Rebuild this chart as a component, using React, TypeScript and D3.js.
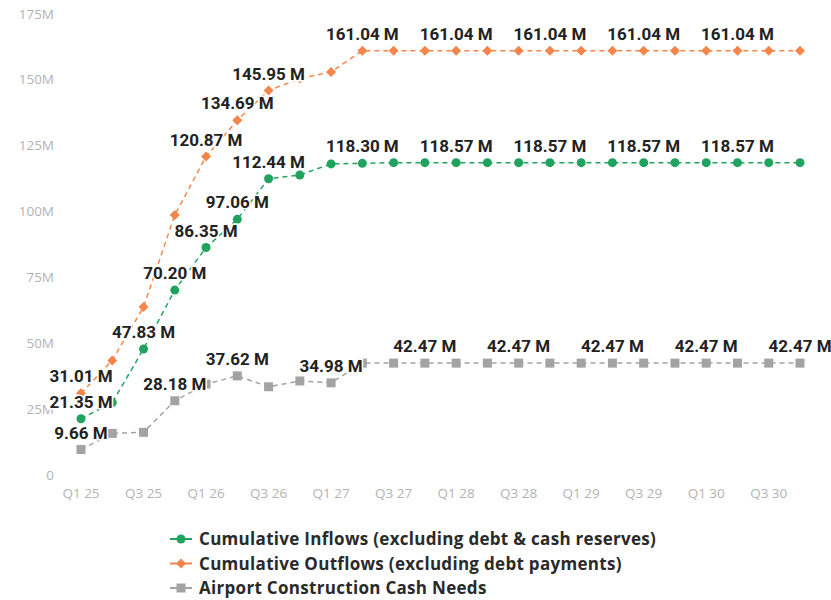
import React from "react";
import * as d3 from "d3";

const quarters = [
  "Q1 25","Q2 25","Q3 25","Q4 25","Q1 26","Q2 26","Q3 26","Q4 26",
  "Q1 27","Q2 27","Q3 27","Q4 27","Q1 28","Q2 28","Q3 28","Q4 28",
  "Q1 29","Q2 29","Q3 29","Q4 29","Q1 30","Q2 30","Q3 30","Q4 30",
];
const tickQuarters = ["Q1 25","Q3 25","Q1 26","Q3 26","Q1 27","Q3 27","Q1 28","Q3 28","Q1 29","Q3 29","Q1 30","Q3 30"];
const yTicks = [0, 25, 50, 75, 100, 125, 150, 175];

const inflows = [21.35, 27.5, 47.83, 70.2, 86.35, 97.06, 112.44, 113.9, 118.1, 118.3,
  118.57, 118.57, 118.57, 118.57, 118.57, 118.57, 118.57, 118.57, 118.57, 118.57, 118.57, 118.57, 118.57, 118.57];
const outflows = [31.01, 43.5, 63.8, 98.7, 120.87, 134.69, 145.95, 150.5, 153.0, 161.04,
  161.04, 161.04, 161.04, 161.04, 161.04, 161.04, 161.04, 161.04, 161.04, 161.04, 161.04, 161.04, 161.04, 161.04];
const construction = [9.66, 15.8, 16.2, 28.18, 34.5, 37.62, 33.5, 35.7, 34.98, 42.47,
  42.47, 42.47, 42.47, 42.47, 42.47, 42.47, 42.47, 42.47, 42.47, 42.47, 42.47, 42.47, 42.47, 42.47];

const inflowLabelIdx = [0, 2, 3, 4, 5, 6, 9, 12, 15, 18, 21];
const outflowLabelIdx = [0, 4, 5, 6, 9, 12, 15, 18, 21];
const constructionLabelIdx = [0, 3, 5, 8, 11, 14, 17, 20, 23];

const seriesNames = [
  "Cumulative Inflows (excluding debt & cash reserves)",
  "Cumulative Outflows (excluding debt payments)",
  "Airport Construction Cash Needs",
];
const colors = ["#1FA35E", "#F5854A", "#A3A3A3"];

type Shape = "circle" | "diamond" | "square";

function Marker({ x, y, shape, color }: { x: number; y: number; shape: Shape; color: string }) {
  if (shape === "circle") return <circle cx={x} cy={y} r={4.5} fill={color} />;
  if (shape === "diamond")
    return <path d={`M${x},${y - 5}L${x + 5},${y}L${x},${y + 5}L${x - 5},${y}Z`} fill={color} />;
  return <rect x={x - 4.5} y={y - 4.5} width={9} height={9} fill={color} />;
}

export default function App() {
  const W = 831, H = 600;
  const x = d3.scalePoint<string>().domain(quarters).range([81, 800]);
  const y = d3.scaleLinear().domain([0, 175]).range([475, 14]);
  const line = d3.line<number>().x((_, i) => x(quarters[i])!).y((d) => y(d));

  const series = [
    { data: inflows, labels: inflowLabelIdx, shape: "circle" as Shape, color: colors[0] },
    { data: outflows, labels: outflowLabelIdx, shape: "diamond" as Shape, color: colors[1] },
    { data: construction, labels: constructionLabelIdx, shape: "square" as Shape, color: colors[2] },
  ];
  const drawOrder = [2, 0, 1];
  const fmt = (v: number) => `${v.toFixed(2)} M`;

  return (
    <svg width={W} height={H} style={{ position: "absolute", left: 0, top: 0, background: "#fff" }}>
      {yTicks.map((t) => (
        <text key={t} x={54} y={y(t) + 4.5} textAnchor="end" fontFamily="'Open Sans', sans-serif" fontSize={13.5} fill="#b3b3b3">
          {t === 0 ? "0" : `${t}M`}
        </text>
      ))}
      {tickQuarters.map((q) => (
        <text key={q} x={x(q)!} y={498} textAnchor="middle" fontFamily="'Open Sans', sans-serif" fontSize={13.5} fill="#b3b3b3">
          {q}
        </text>
      ))}
      {drawOrder.map((si) => {
        const s = series[si];
        return (
          <g key={si}>
            <path d={line(s.data)!} fill="none" stroke={s.color} strokeWidth={1.5} strokeDasharray="5,4" />
            {s.data.map((v, i) => (
              <Marker key={i} x={x(quarters[i])!} y={y(v)} shape={s.shape} color={s.color} />
            ))}
          </g>
        );
      })}
      {drawOrder.map((si) => {
        const s = series[si];
        return (
          <g key={"l" + si}>
            {s.labels.map((i) => (
              <text key={i} x={x(quarters[i])!} y={y(s.data[i]) - 11} textAnchor="middle"
                fontFamily="Roboto, sans-serif" fontWeight={700} fontSize={17} fill="#222"
                stroke="#fff" strokeWidth={3} paintOrder="stroke">
                {fmt(s.data[i])}
              </text>
            ))}
          </g>
        );
      })}
      {seriesNames.map((name, i) => {
        const ly = 539 + i * 24.5;
        return (
          <g key={name}>
            <line x1={170} x2={192} y1={ly} y2={ly} stroke={colors[i]} strokeWidth={2} />
            <Marker x={181} y={ly} shape={series[i].shape} color={colors[i]} />
            <text x={199} y={ly + 6} fontFamily="'Open Sans', sans-serif" fontWeight={700} fontSize={17} letterSpacing={0.3} fill="#2a2a2a">
              {name}
            </text>
          </g>
        );
      })}
    </svg>
  );
}
